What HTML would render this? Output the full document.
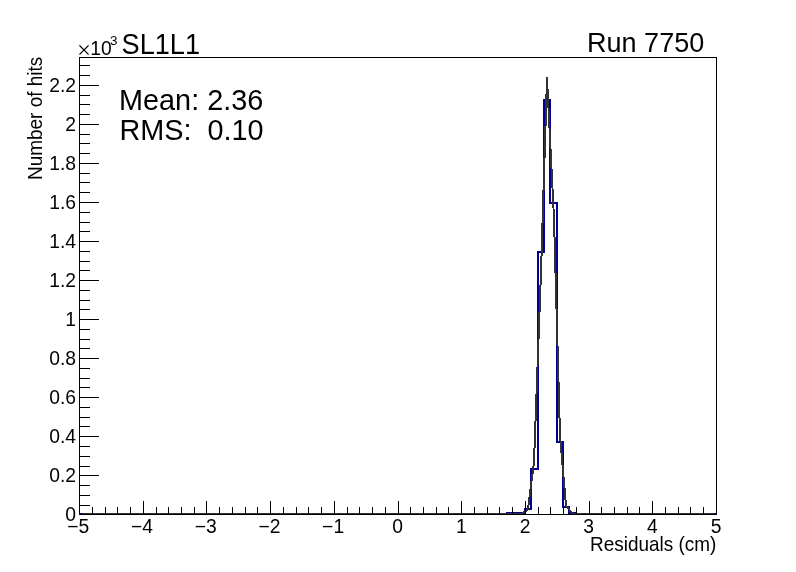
<!DOCTYPE html>
<html lang="en"><head><meta charset="utf-8"><title>SL1L1 Run 7750</title>
<style>html,body{margin:0;padding:0;background:#fff;}body{width:796px;height:572px;overflow:hidden;}svg{display:block;}text{font-family:"Liberation Sans",Arial,Helvetica,sans-serif;fill:#000;white-space:pre;}</style></head><body>
<svg width="796" height="572" viewBox="0 0 796 572">
<rect x="0" y="0" width="796" height="572" fill="#ffffff"/>
<g shape-rendering="crispEdges" fill="none">
<polyline stroke="#000099" stroke-width="2" stroke-linejoin="miter" points="79,514 507,514 507,513 525,513 525,509 531,509 531,469 538,469 538,252 544,252 544,100 550,100 550,203 557,203 557,442 563,442 563,507 569,507 569,513 576,513 576,514 716,514"/>
<polyline stroke="#333333" stroke-width="2" stroke-linejoin="round" points="82,514 522,514 528,509 534,462 541,272 547,78 554,218 560,435 566,506 573,514 714,514"/>
<rect x="79.5" y="57.5" width="637" height="457" stroke="#000" stroke-width="1"/>
<path stroke="#000" stroke-width="1" d="M79.5,515v-14M92.5,515v-8M105.5,515v-8M117.5,515v-8M130.5,515v-8M143.5,515v-14M156.5,515v-8M168.5,515v-8M181.5,515v-8M194.5,515v-8M206.5,515v-14M219.5,515v-8M232.5,515v-8M245.5,515v-8M257.5,515v-8M270.5,515v-14M283.5,515v-8M296.5,515v-8M308.5,515v-8M321.5,515v-8M334.5,515v-14M347.5,515v-8M359.5,515v-8M372.5,515v-8M385.5,515v-8M398.5,515v-14M410.5,515v-8M423.5,515v-8M436.5,515v-8M448.5,515v-8M461.5,515v-14M474.5,515v-8M487.5,515v-8M499.5,515v-8M512.5,515v-8M525.5,515v-14M538.5,515v-8M550.5,515v-8M563.5,515v-8M576.5,515v-8M589.5,515v-14M601.5,515v-8M614.5,515v-8M627.5,515v-8M639.5,515v-8M652.5,515v-14M665.5,515v-8M678.5,515v-8M690.5,515v-8M703.5,515v-8M716.5,515v-14M79,514.5h20M79,505.5h11M79,495.5h11M79,485.5h11M79,475.5h20M79,466.5h11M79,456.5h11M79,446.5h11M79,436.5h20M79,426.5h11M79,417.5h11M79,407.5h11M79,397.5h20M79,387.5h11M79,378.5h11M79,368.5h11M79,358.5h20M79,348.5h11M79,339.5h11M79,329.5h11M79,319.5h20M79,309.5h11M79,300.5h11M79,290.5h11M79,280.5h20M79,270.5h11M79,261.5h11M79,251.5h11M79,241.5h20M79,231.5h11M79,222.5h11M79,212.5h11M79,202.5h20M79,192.5h11M79,182.5h11M79,173.5h11M79,163.5h20M79,153.5h11M79,143.5h11M79,134.5h11M79,124.5h20M79,114.5h11M79,104.5h11M79,95.5h11M79,85.5h20M79,75.5h11M79,65.5h11"/>
</g>
<g id="labels" style="opacity:0.999">
<text transform="translate(78.3,533.2)" font-size="19.3px" text-anchor="middle" xml:space="preserve">−5</text>
<text transform="translate(142.0,533.2)" font-size="19.3px" text-anchor="middle" xml:space="preserve">−4</text>
<text transform="translate(205.7,533.2)" font-size="19.3px" text-anchor="middle" xml:space="preserve">−3</text>
<text transform="translate(269.4,533.2)" font-size="19.3px" text-anchor="middle" xml:space="preserve">−2</text>
<text transform="translate(333.1,533.2)" font-size="19.3px" text-anchor="middle" xml:space="preserve">−1</text>
<text transform="translate(397.6,533.2)" font-size="19.3px" text-anchor="middle" xml:space="preserve">0</text>
<text transform="translate(461.3,533.2)" font-size="19.3px" text-anchor="middle" xml:space="preserve">1</text>
<text transform="translate(525.0,533.2)" font-size="19.3px" text-anchor="middle" xml:space="preserve">2</text>
<text transform="translate(588.7,533.2)" font-size="19.3px" text-anchor="middle" xml:space="preserve">3</text>
<text transform="translate(652.4,533.2)" font-size="19.3px" text-anchor="middle" xml:space="preserve">4</text>
<text transform="translate(716.1,533.2)" font-size="19.3px" text-anchor="middle" xml:space="preserve">5</text>
<text transform="translate(76.0,521.3)" font-size="19.3px" text-anchor="end" xml:space="preserve">0</text>
<text transform="translate(76.0,482.3)" font-size="19.3px" text-anchor="end" xml:space="preserve">0.2</text>
<text transform="translate(76.0,443.3)" font-size="19.3px" text-anchor="end" xml:space="preserve">0.4</text>
<text transform="translate(76.0,404.3)" font-size="19.3px" text-anchor="end" xml:space="preserve">0.6</text>
<text transform="translate(76.0,365.3)" font-size="19.3px" text-anchor="end" xml:space="preserve">0.8</text>
<text transform="translate(76.0,326.3)" font-size="19.3px" text-anchor="end" xml:space="preserve">1</text>
<text transform="translate(76.0,287.3)" font-size="19.3px" text-anchor="end" xml:space="preserve">1.2</text>
<text transform="translate(76.0,248.3)" font-size="19.3px" text-anchor="end" xml:space="preserve">1.4</text>
<text transform="translate(76.0,209.3)" font-size="19.3px" text-anchor="end" xml:space="preserve">1.6</text>
<text transform="translate(76.0,170.3)" font-size="19.3px" text-anchor="end" xml:space="preserve">1.8</text>
<text transform="translate(76.0,131.3)" font-size="19.3px" text-anchor="end" xml:space="preserve">2</text>
<text transform="translate(76.0,92.3)" font-size="19.3px" text-anchor="end" xml:space="preserve">2.2</text>
<text transform="translate(76.9,58.4)" font-size="24px" xml:space="preserve" stroke="#fff" stroke-width="0.4">×</text>
<text transform="translate(90.2,54.9)" font-size="19.3px" xml:space="preserve">10</text>
<text transform="translate(110.0,45.0)" font-size="13.5px" xml:space="preserve">3</text>
<text transform="translate(716.3,551.2) scale(0.987,1.07)" font-size="19.2px" text-anchor="end" xml:space="preserve">Residuals (cm)</text>
<text transform="translate(42.3,56.8) rotate(-90) scale(0.987,1.07)" font-size="19.2px" text-anchor="end" xml:space="preserve">Number of hits</text>
<text transform="translate(121.6,53.5) scale(0.945,1.0)" font-size="28.7px" xml:space="preserve">SL1L1</text>
<text transform="translate(704.2,51.9)" font-size="27px" text-anchor="end" xml:space="preserve">Run 7750</text>
<text transform="translate(119.0,109.6) scale(0.995,1.0)" font-size="29px" xml:space="preserve">Mean: 2.36</text>
<text transform="translate(119.4,139.8) scale(0.995,1.0)" font-size="29px" xml:space="preserve">RMS:  0.10</text>
</g>
</svg></body></html>
